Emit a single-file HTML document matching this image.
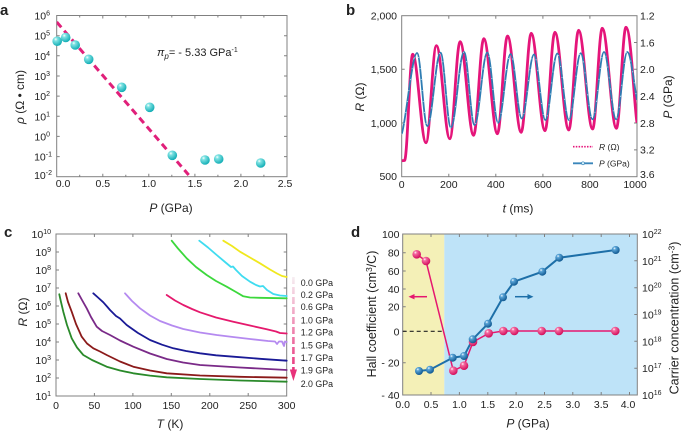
<!DOCTYPE html>
<html><head><meta charset="utf-8"><style>
html,body{margin:0;padding:0;background:#fff;}
svg{display:block;}
text{font-family:"Liberation Sans",Arial,sans-serif;fill:#222;}
</style></head><body>
<svg width="685" height="433" viewBox="0 0 685 433" xmlns="http://www.w3.org/2000/svg">
<defs>
<radialGradient id="gc" cx="35%" cy="30%" r="70%"><stop offset="0" stop-color="#ffffff"/><stop offset="0.25" stop-color="#7fe3e3"/><stop offset="1" stop-color="#14aeb6"/></radialGradient>
<radialGradient id="gp" cx="35%" cy="30%" r="70%"><stop offset="0" stop-color="#ffffff"/><stop offset="0.25" stop-color="#f56aa0"/><stop offset="1" stop-color="#d30f5c"/></radialGradient>
<radialGradient id="gb" cx="35%" cy="30%" r="70%"><stop offset="0" stop-color="#ffffff"/><stop offset="0.25" stop-color="#5aa5d8"/><stop offset="1" stop-color="#115a92"/></radialGradient>
<linearGradient id="arr" gradientUnits="userSpaceOnUse" x1="0" y1="277" x2="0" y2="372"><stop offset="0" stop-color="#f6eef2"/><stop offset="1" stop-color="#e8327a"/></linearGradient>
<clipPath id="cb"><rect x="401.7" y="15.7" width="235.3" height="161"/></clipPath>
<clipPath id="ca"><rect x="56.7" y="15.5" width="230.3" height="161.2"/></clipPath>
</defs>

<!-- ================= PANEL A ================= -->
<text x="0" y="15" font-size="15" font-weight="bold">a</text>
<rect x="56.7" y="15.5" width="230.3" height="161.2" fill="none" stroke="#808080" stroke-width="1"/>
<g stroke="#808080" stroke-width="1">
<path d="M102.8,176.7v-3M148.8,176.7v-3M194.9,176.7v-3M240.9,176.7v-3M79.7,176.7v-2M125.8,176.7v-2M171.8,176.7v-2M217.9,176.7v-2M263.9,176.7v-2"/>
<path d="M102.8,15.5v3M148.8,15.5v3M194.9,15.5v3M240.9,15.5v3M79.7,15.5v2M125.8,15.5v2M171.8,15.5v2M217.9,15.5v2M263.9,15.5v2"/>
<path d="M56.7,35.7h3M56.7,55.8h3M56.7,76h3M56.7,96.1h3M56.7,116.3h3M56.7,136.4h3M56.7,156.6h3"/>
<path d="M287,35.7h-3M287,55.8h-3M287,76h-3M287,96.1h-3M287,116.3h-3M287,136.4h-3M287,156.6h-3"/>
</g>
<g font-size="10.5" text-anchor="end">
<text x="50" y="19.5">10<tspan font-size="7" dy="-4">6</tspan></text>
<text x="50" y="39.7">10<tspan font-size="7" dy="-4">5</tspan></text>
<text x="50" y="59.8">10<tspan font-size="7" dy="-4">4</tspan></text>
<text x="50" y="80">10<tspan font-size="7" dy="-4">3</tspan></text>
<text x="50" y="100.1">10<tspan font-size="7" dy="-4">2</tspan></text>
<text x="50" y="120.3">10<tspan font-size="7" dy="-4">1</tspan></text>
<text x="50" y="140.4">10<tspan font-size="7" dy="-4">0</tspan></text>
<text x="52" y="160.6">10<tspan font-size="7" dy="-4">-1</tspan></text>
<text x="52" y="179">10<tspan font-size="7" dy="-4">-2</tspan></text>
</g>
<g font-size="10.5" text-anchor="middle">
<text x="63" y="187">0.0</text><text x="102.8" y="187">0.5</text><text x="148.8" y="187">1.0</text>
<text x="194.9" y="187">1.5</text><text x="240.9" y="187">2.0</text><text x="285" y="187">2.5</text>
</g>
<text x="171" y="212" font-size="12" text-anchor="middle"><tspan font-style="italic">P</tspan> (GPa)</text>
<text transform="translate(24,97) rotate(-90)" font-size="12" text-anchor="middle"><tspan font-style="italic">ρ</tspan> (Ω • cm)</text>
<text x="157" y="56" font-size="11"><tspan font-style="italic">π</tspan><tspan font-style="italic" font-size="8" dy="3">p</tspan><tspan dy="-3">= - 5.33 GPa</tspan><tspan font-size="7" dy="-4">-1</tspan></text>
<g clip-path="url(#ca)"><line x1="56.7" y1="22" x2="188.7" y2="175" stroke="#e0207a" stroke-width="3" stroke-dasharray="7 4.5"/></g>
<g fill="url(#gc)">
<circle cx="57.2" cy="41.2" r="4.8"/><circle cx="65.7" cy="37.5" r="4.8"/><circle cx="75.2" cy="45" r="4.8"/>
<circle cx="88.7" cy="59.3" r="4.8"/><circle cx="121.7" cy="87.3" r="4.8"/><circle cx="149.7" cy="107.3" r="4.8"/>
<circle cx="172.3" cy="155.3" r="4.8"/><circle cx="205" cy="160" r="4.8"/><circle cx="218.7" cy="159" r="4.8"/>
<circle cx="260.7" cy="163" r="4.8"/>
</g>

<!-- ================= PANEL B ================= -->
<text x="346" y="15" font-size="15" font-weight="bold">b</text>
<rect x="401.7" y="15.7" width="235.3" height="161" fill="none" stroke="#808080" stroke-width="1"/>
<g stroke="#808080" stroke-width="1">
<path d="M448.8,176.7v-3M495.8,176.7v-3M542.9,176.7v-3M589.9,176.7v-3M448.8,15.7v3M495.8,15.7v3M542.9,15.7v3M589.9,15.7v3"/>
<path d="M401.7,69.3h3M401.7,123h3M637,42.5h-3M637,69.3h-3M637,96.2h-3M637,123h-3M637,149.9h-3"/>
</g>
<g font-size="10.5" text-anchor="end">
<text x="397" y="19.5">2,000</text><text x="397" y="73">1,500</text><text x="397" y="127">1,000</text><text x="397" y="180">500</text>
</g>
<g font-size="10.5">
<text x="640" y="19.5">1.2</text><text x="640" y="46.3">1.6</text><text x="640" y="73.1">2.0</text>
<text x="640" y="100">2.4</text><text x="640" y="126.8">2.8</text><text x="640" y="153.7">3.2</text><text x="640" y="178">3.6</text>
</g>
<g font-size="10.5" text-anchor="middle">
<text x="401.7" y="188">0</text><text x="448.8" y="188">200</text><text x="495.8" y="188">400</text>
<text x="542.9" y="188">600</text><text x="589.9" y="188">800</text><text x="635" y="188">1000</text>
</g>
<text x="518" y="212.5" font-size="12" text-anchor="middle"><tspan font-style="italic">t</tspan> (ms)</text>
<text transform="translate(364,97) rotate(-90)" font-size="12" text-anchor="middle"><tspan font-style="italic">R</tspan> (Ω)</text>
<text transform="translate(672,97) rotate(-90)" font-size="12" text-anchor="middle"><tspan font-style="italic">P</tspan>  (GPa)</text>
<g clip-path="url(#cb)" fill="none">
<path stroke="#e5157a" stroke-width="2.8" stroke-linejoin="round" d="M401.7,160.7 L404.5,160.5 C407.5,160.5 409.7,54.3 412.7,54.3 C417.5,54.3 421.2,142.7 426,142.7 C429.8,142.7 432.6,45.7 436.4,45.7 C441.3,45.7 444.9,138.7 449.8,138.7 C453.6,138.7 456.4,41.7 460.1,41.7 C465,41.7 468.7,135.3 473.6,135.3 C477.3,135.3 480.1,38.7 483.8,38.7 C488.8,38.7 492.5,133.7 497.4,133.7 C501.1,133.7 503.8,36 507.5,36 C512.5,36 516.2,132.3 521.2,132.3 C524.8,132.3 527.6,33.3 531.2,33.3 C536.2,33.3 540,130.7 545,130.7 C548.6,130.7 551.3,32.3 554.9,32.3 C560,32.3 563.7,130 568.8,130 C572.4,130 575,30.3 578.6,30.3 C583.7,30.3 587.5,129 592.6,129 C596.1,129 598.8,28.3 602.3,28.3 C607.4,28.3 611.3,128.3 616.4,128.3 C619.9,128.3 622.5,27.3 626,27.3 C631,27.3 634.5,110 637,122.7"/>
<path stroke="#2f7db3" stroke-width="1.8" stroke-linejoin="round" d="M401.7,134 C406,122 412,53 417,53 C420.8,53 423.5,126 427.3,126 C432.1,126 435.7,52.7 440.5,52.7 C444.3,52.7 447.1,127.5 450.9,127.5 C455.7,127.5 459.2,52 464,52 C467.8,52 470.7,125 474.5,125 C479.2,125 482.6,52.5 487.3,52.5 C491.2,52.5 494.2,122.7 498.1,122.7 C502.7,122.7 506,54 510.6,54 C514.6,54 517.7,118.5 521.7,118.5 C526.2,118.5 529.5,54.5 534,54.5 C538.1,54.5 541.2,120 545.3,120 C549.7,120 552.9,53.5 557.3,53.5 C561.5,53.5 564.7,120 568.9,120 C573.2,120 576.4,53.3 580.7,53.3 C585,53.3 588.2,119.3 592.5,119.3 C596.7,119.3 599.8,52 604,52 C608.4,52 611.7,119.3 616.1,119.3 C620.2,119.3 623.2,52 627.3,52 C631,52 634,85 637,100"/>
<path stroke="#b5e3f3" stroke-width="1.1" stroke-linecap="round" stroke-dasharray="0 11" d="M401.7,134 C406,122 412,53 417,53 C420.8,53 423.5,126 427.3,126 C432.1,126 435.7,52.7 440.5,52.7 C444.3,52.7 447.1,127.5 450.9,127.5 C455.7,127.5 459.2,52 464,52 C467.8,52 470.7,125 474.5,125 C479.2,125 482.6,52.5 487.3,52.5 C491.2,52.5 494.2,122.7 498.1,122.7 C502.7,122.7 506,54 510.6,54 C514.6,54 517.7,118.5 521.7,118.5 C526.2,118.5 529.5,54.5 534,54.5 C538.1,54.5 541.2,120 545.3,120 C549.7,120 552.9,53.5 557.3,53.5 C561.5,53.5 564.7,120 568.9,120 C573.2,120 576.4,53.3 580.7,53.3 C585,53.3 588.2,119.3 592.5,119.3 C596.7,119.3 599.8,52 604,52 C608.4,52 611.7,119.3 616.1,119.3 C620.2,119.3 623.2,52 627.3,52 C631,52 634,85 637,100"/>
</g>
<line x1="573" y1="146.7" x2="593" y2="146.7" stroke="#e5157a" stroke-width="1.6" stroke-dasharray="1.5 1.3"/>
<text x="599" y="149.8" font-size="8.5"><tspan font-style="italic">R</tspan> (Ω)</text>
<line x1="573" y1="163.3" x2="593" y2="163.3" stroke="#3a86bb" stroke-width="1.8"/>
<circle cx="583" cy="163.3" r="1.5" fill="#d4f1fb" stroke="#3a86bb" stroke-width="0.6"/>
<text x="599" y="166.4" font-size="8.5"><tspan font-style="italic">P</tspan> (GPa)</text>

<!-- ================= PANEL C ================= -->
<text x="4" y="237" font-size="15" font-weight="bold">c</text>
<rect x="56" y="234" width="230.7" height="162" fill="none" stroke="#808080" stroke-width="1"/>
<g stroke="#808080" stroke-width="1">
<path d="M94.4,396v-3M132.9,396v-3M171.3,396v-3M209.8,396v-3M248.2,396v-3M94.4,234v3M132.9,234v3M171.3,234v3M209.8,234v3M248.2,234v3"/>
<path d="M56,252h3M56,270h3M56,288h3M56,306h3M56,324h3M56,342h3M56,360h3M56,378h3M286.7,252h-3M286.7,270h-3M286.7,288h-3M286.7,306h-3M286.7,324h-3M286.7,342h-3M286.7,360h-3M286.7,378h-3"/>
</g>
<g font-size="10.5" text-anchor="end">
<text x="51" y="238">10<tspan font-size="7" dy="-4">10</tspan></text>
<text x="51" y="256">10<tspan font-size="7" dy="-4">9</tspan></text>
<text x="51" y="274">10<tspan font-size="7" dy="-4">8</tspan></text>
<text x="51" y="292">10<tspan font-size="7" dy="-4">7</tspan></text>
<text x="51" y="310">10<tspan font-size="7" dy="-4">6</tspan></text>
<text x="51" y="328">10<tspan font-size="7" dy="-4">5</tspan></text>
<text x="51" y="346">10<tspan font-size="7" dy="-4">4</tspan></text>
<text x="51" y="364">10<tspan font-size="7" dy="-4">3</tspan></text>
<text x="51" y="382">10<tspan font-size="7" dy="-4">2</tspan></text>
<text x="51" y="400">10<tspan font-size="7" dy="-4">1</tspan></text>
</g>
<g font-size="10.5" text-anchor="middle">
<text x="56" y="409">0</text><text x="94.4" y="409">50</text><text x="132.9" y="409">100</text><text x="171.3" y="409">150</text>
<text x="209.8" y="409">200</text><text x="248.2" y="409">250</text><text x="286.7" y="409">300</text>
</g>
<text x="170" y="428" font-size="12" text-anchor="middle"><tspan font-style="italic">T</tspan> (K)</text>
<text transform="translate(27,312) rotate(-90)" font-size="12" text-anchor="middle"><tspan font-style="italic">R</tspan> (Ω)</text>
<g fill="none" stroke-width="1.8" stroke-linejoin="round" stroke-linecap="round">
<polyline stroke="#f0e81e" points="223.3,240.7 232,246 240,251.7 250,257.5 260,263.3 270,269.5 277,273.5 282,276 286.7,277"/>
<polyline stroke="#3fdcf0" points="199.3,240.7 208,247.5 216.7,255 225,262 231,267 233,266.5 236,270 242,276 250,281.7 256,285 260,286.5 263,286 267,290 273.3,294 280,295.5 286.7,296"/>
<polyline stroke="#3cd83c" points="171.7,240.7 178,248.5 186.7,258.3 196,267 206.7,275 216,281 226.7,286.7 236,292 243.3,296.3 250,297.5 260,297.8 286.7,298.3"/>
<polyline stroke="#e5196d" points="166.7,295 175,300.5 183.3,305 192,309 200,312.3 216,317.5 233.3,321.7 250,325.5 266.7,329.3 276,331.5 280,333 286.7,333.5"/>
<polyline stroke="#b58af0" points="125,293.3 132,301 140,308.3 150,315.5 160,321 172,325.5 183.3,329 200,332.5 216.7,335 233,337 250,339 268,341 275,341.5 277,344 279,341.5 282,341.5 284,346 285,341.5 286.7,342"/>
<polyline stroke="#1a1a96" points="93.3,293.3 98,297.5 103.3,302.3 107,306.5 110,310 116,316 120,318.5 126.7,325 138,333 150,340 162,344.7 173.3,348.3 186,351 200,353.3 216,355.3 233.3,356.7 260,358.8 286.7,360.7"/>
<polyline stroke="#7a2a88" points="78.3,293.3 82,300 86.7,308.3 91,317 96.7,326.7 102,331 110,335 120,340.5 133.3,346.7 150,353.5 166.7,359 183,362.5 200,365 240,367.5 286.7,370"/>
<polyline stroke="#8b1a1a" points="65.7,293.3 68,302 71.7,311.7 76,324 81.7,336.7 87,343.5 93.3,348.3 100,351.5 106.7,355 120,361.5 133.3,366.7 150,370.5 166.7,373.3 200,375.5 240,376.8 286.7,377.7"/>
<polyline stroke="#2a8a2a" points="59.3,294.3 61,302 63.3,311.7 67,325 71.7,338.3 77,347.5 83.3,355 92,360 106.7,366.7 120,370.5 133.3,373.3 150,375.6 166.7,377.3 200,379 240,380.5 286.7,381.7"/>
</g>
<line x1="293.4" y1="277" x2="293.4" y2="372" stroke="url(#arr)" stroke-width="2.6" stroke-dasharray="7 3"/>
<polygon points="289.8,369.5 297,369.5 293.4,381" fill="#e8327a"/>
<g font-size="8.8">
<text x="300.7" y="286.2">0.0 GPa</text><text x="300.7" y="297.8">0.2 GPa</text><text x="300.7" y="310.2">0.6 GPa</text>
<text x="300.7" y="323.5">1.0 GPa</text><text x="300.7" y="335.5">1.2 GPa</text><text x="300.7" y="348.5">1.5 GPa</text>
<text x="300.7" y="361.2">1.7 GPa</text><text x="300.7" y="373.5">1.9 GPa</text><text x="300.7" y="386.8">2.0 GPa</text>
</g>

<!-- ================= PANEL D ================= -->
<text x="351" y="237" font-size="15" font-weight="bold">d</text>
<rect x="402.7" y="234" width="41.6" height="161" fill="#f4f0b7"/>
<rect x="444.3" y="234" width="193" height="161" fill="#bee3f8"/>
<rect x="402.7" y="234" width="234.6" height="161" fill="none" stroke="#808080" stroke-width="1"/>
<g stroke="#808080" stroke-width="1">
<path d="M431,395v-3M459.4,395v-3M487.8,395v-3M516.1,395v-3M544.5,395v-3M572.8,395v-3M601.2,395v-3M629.5,395v-3"/>
<path d="M431,234v3M459.4,234v3M487.8,234v3M516.1,234v3M544.5,234v3M572.8,234v3M601.2,234v3M629.5,234v3"/>
<path d="M402.7,252.7h3M402.7,271h3M402.7,289h3M402.7,306.7h3M402.7,331.3h3M402.7,362.7h3"/>
<path d="M637.3,260.8h-3M637.3,287.7h-3M637.3,314.5h-3M637.3,341.3h-3M637.3,368.2h-3"/>
</g>
<g font-size="10.5" text-anchor="end">
<text x="399.5" y="238">100</text><text x="399.5" y="256.7">80</text><text x="399.5" y="275">60</text>
<text x="399.5" y="293">40</text><text x="399.5" y="310.7">20</text><text x="399.5" y="335.3">0</text>
<text x="399.5" y="366.7">- 20</text><text x="399.5" y="399">- 40</text>
</g>
<g font-size="10.5">
<text x="642" y="238">10<tspan font-size="7" dy="-4">22</tspan></text>
<text x="642" y="264.8">10<tspan font-size="7" dy="-4">21</tspan></text>
<text x="642" y="291.7">10<tspan font-size="7" dy="-4">20</tspan></text>
<text x="642" y="318.5">10<tspan font-size="7" dy="-4">19</tspan></text>
<text x="642" y="345.3">10<tspan font-size="7" dy="-4">18</tspan></text>
<text x="642" y="372.2">10<tspan font-size="7" dy="-4">17</tspan></text>
<text x="642" y="399">10<tspan font-size="7" dy="-4">16</tspan></text>
</g>
<g font-size="10.5" text-anchor="middle">
<text x="402.7" y="408">0.0</text><text x="431" y="408">0.5</text><text x="459.4" y="408">1.0</text>
<text x="487.8" y="408">1.5</text><text x="516.1" y="408">2.0</text><text x="544.5" y="408">2.5</text>
<text x="572.8" y="408">3.0</text><text x="601.2" y="408">3.5</text><text x="628" y="408">4.0</text>
</g>
<text x="528" y="427.5" font-size="12" text-anchor="middle"><tspan font-style="italic">P</tspan> (GPa)</text>
<text transform="translate(376,314) rotate(-90)" font-size="12.5" text-anchor="middle">Hall coefficient  (cm<tspan font-size="8.5" dy="-4">3</tspan><tspan dy="4">/C)</tspan></text>
<text transform="translate(678.5,318) rotate(-90)" font-size="12.5" text-anchor="middle">Carrier concentration (cm<tspan font-size="8.5" dy="-4">-3</tspan><tspan dy="4">)</tspan></text>
<line x1="402.7" y1="331.3" x2="444.3" y2="331.3" stroke="#222" stroke-width="1.2" stroke-dasharray="4 3"/>
<line x1="413" y1="296.7" x2="427" y2="296.7" stroke="#e5176f" stroke-width="1.5"/>
<polygon points="408.5,296.7 414.5,294 414.5,299.4" fill="#e5176f"/>
<line x1="515" y1="296.7" x2="529" y2="296.7" stroke="#1d6fa8" stroke-width="1.5"/>
<polygon points="533.5,296.7 527.5,294 527.5,299.4" fill="#1d6fa8"/>
<polyline fill="none" stroke="#e5176f" stroke-width="1.5" points="416.7,254.3 426,261 453.3,370.7 464,365.7 473,342 488.7,333.3 503.3,331 514.3,331 541.7,331 559,331 615.3,331"/>
<polyline fill="none" stroke="#1d6fa8" stroke-width="2" points="419,371 430,369.7 452.7,357.7 464,356 472.7,339.3 488,323.7 503,297.3 514,281.7 542.3,271.7 559.3,257.7 615.7,250"/>
<g fill="url(#gp)">
<circle cx="416.7" cy="254.3" r="4.3"/><circle cx="426" cy="261" r="4.3"/><circle cx="453.3" cy="370.7" r="4.3"/>
<circle cx="464" cy="365.7" r="4.3"/><circle cx="473" cy="342" r="4.3"/><circle cx="488.7" cy="333.3" r="4.3"/>
<circle cx="503.3" cy="331" r="4.3"/><circle cx="514.3" cy="331" r="4.3"/><circle cx="541.7" cy="331" r="4.3"/>
<circle cx="559" cy="331" r="4.3"/><circle cx="615.3" cy="331" r="4.3"/>
</g>
<g fill="url(#gb)">
<circle cx="419" cy="371" r="4"/><circle cx="430" cy="369.7" r="4"/><circle cx="452.7" cy="357.7" r="4"/>
<circle cx="464" cy="356" r="4"/><circle cx="472.7" cy="339.3" r="4"/><circle cx="488" cy="323.7" r="4"/>
<circle cx="503" cy="297.3" r="4"/><circle cx="514" cy="281.7" r="4"/><circle cx="542.3" cy="271.7" r="4"/>
<circle cx="559.3" cy="257.7" r="4"/><circle cx="615.7" cy="250" r="4"/>
</g>
</svg>
</body></html>
